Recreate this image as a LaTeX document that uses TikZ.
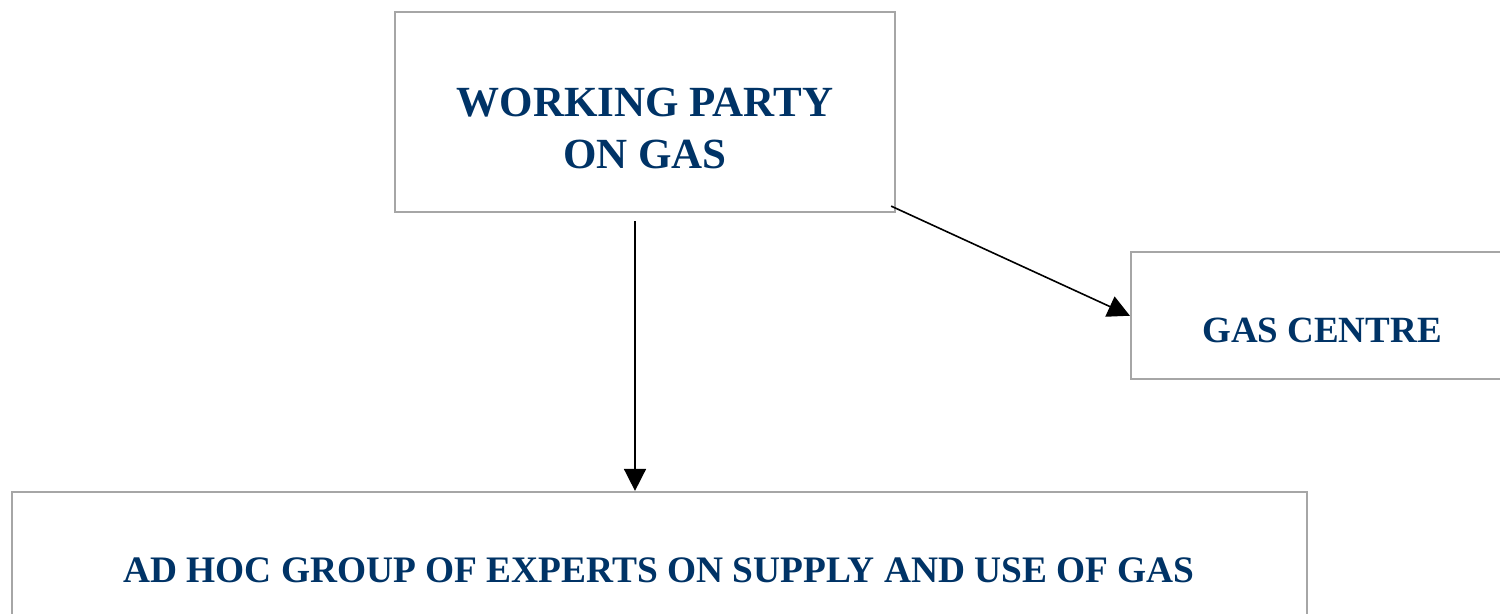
\documentclass[tikz,border=0pt]{standalone}
\usepackage{fontspec}
\setmainfont{Liberation Serif}
\usetikzlibrary{arrows.meta}
\definecolor{txtblue}{RGB}{0,51,102}
\definecolor{boxgray}{RGB}{166,166,166}
\begin{document}
\begin{tikzpicture}[x=0.5pt,y=-0.5pt,
  box/.style={draw=boxgray, line width=1.1pt, rectangle, inner sep=0pt},
  lbl/.style={text=txtblue, align=center, inner sep=0pt},
  arr/.style={draw=black, line width=0.8pt, -{Triangle[length=11pt,width=11pt]}}]
\useasboundingbox (0,0) rectangle (1500,614);
\clip (0,0) rectangle (1500,614);
\node[box, minimum width=250pt, minimum height=100pt] (wp) at (645,112) {};
\node[lbl, font=\bfseries\fontsize{21.5}{26}\selectfont] (wpt) at (645,128) {WORKING PARTY\\ON GAS};
\node[box, minimum width=195pt, minimum height=63.5pt] (gc) at (1326,315.75) {};
\node[lbl, font=\bfseries\fontsize{18.5}{22}\selectfont] (gct) at (1322,330) {GAS CENTRE};
\node[box, minimum width=647.5pt, minimum height=80pt] (ad) at (659.5,572) {};
\node[lbl, font=\bfseries\fontsize{18.7}{22}\selectfont] (adt) at (659,570) {AD HOC GROUP OF EXPERTS ON SUPPLY AND USE OF GAS};
\draw[arr, shorten <=4pt] ([xshift=-5pt]wp.south) -- ([xshift=-5pt]wp.south |- ad.north);
\draw[arr] ([xshift=-2.5pt,yshift=3.5pt]wp.south east) -- (gc.west);
\end{tikzpicture}
\end{document}
